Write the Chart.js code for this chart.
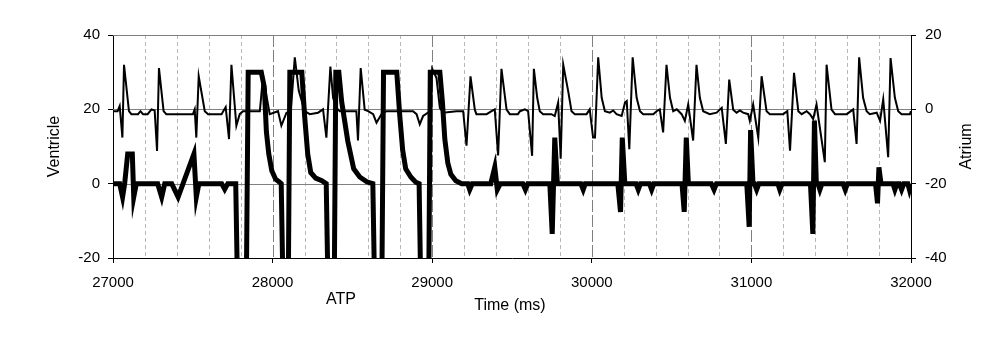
<!DOCTYPE html>
<html>
<head>
<meta charset="utf-8">
<script src="https://cdn.jsdelivr.net/npm/chart.js@4.4.1/dist/chart.umd.min.js"></script>
<style>
  html, body { margin: 0; padding: 0; background: #ffffff; }
  #wrap { width: 1006px; height: 337px; }
</style>
</head>
<body>
<div id="wrap"><canvas id="c" width="1006" height="337"></canvas></div>
<script>
// Time axis (ms) and tick labels
const timeTicks = [27000, 28000, 29000, 30000, 31000, 32000];
const ventricleTicks = [-20, 0, 20, 40];
const atriumTicks = [-40, -20, 0, 20];

// Ventricular channel: sample times (ms) and amplitude
const timeV = [
  27000, 27042, 27060, 27073, 27092, 27121, 27130, 27146, 27280, 27305,
  27324, 27368, 27408, 27507, 27522, 27538, 27681, 27700, 27719, 27769,
  27781, 27835, 27847, 27929, 27948, 27961, 27976, 27995, 28019, 28044,
  28054, 28066, 28098, 28108, 28183, 28201, 28220, 28239, 28270, 28308,
  28336, 28348, 28386, 28396, 28415, 28433, 28471, 28508, 28546, 28590,
  28628, 28640, 28684, 28695, 28778, 28796, 28815, 28834, 28866, 28897,
  28918, 28929, 28978, 28988, 29048, 29064, 29079, 29098, 29117, 29148,
  29185, 29223, 29235, 29251, 29367, 29392, 29408, 29427, 29568, 29584,
  29599, 29737, 29752, 29768, 29784, 29931, 29946, 29959, 30163, 30180,
  30191, 30207, 30277, 30291, 30305, 30361, 30375, 30389, 30565, 30579,
  30592, 30605, 30749, 30766, 30781, 30971, 30986, 30995, 31010, 31019,
  31033, 31047, 31166, 31178, 31193, 31370, 31385, 31395, 31407, 31417,
  31429, 31442, 31574, 31588, 31602, 31778, 31790, 31799, 31812, 31887,
  31899, 31912, 31927, 31941, 31955, 31980, 31990, 32000
];
const ventricle = [
  0, 0, -3.6, 0, 8, 8, -3.6, 0, 0, -3.6,
  0, 0, -3.6, 8, -3.6, 0, 0, -1.5, 0, 0,
  -30, -30, 30, 30, 26, 14, 8, 3.5, 1.2, 0.4,
  0, -30, -30, 30, 30, 18, 8, 3, 1.5, 0.8,
  0, -30, -30, 30, 30, 22, 11.5, 4, 1.8, 0.5,
  0, -30, -30, 30, 30, 18.7, 9, 4, 1.8, 0.4,
  0, -30, -30, 30, 30, 22, 12, 5.5, 2.5, 0.8,
  0, 0, -1.6, 0, 0, 4.4, -1.6, 0, 0, -1.6,
  0, 0, -13.5, 12.4, 0, 0, -1.6, 0, 0, -7.6,
  12.4, 0, 0, -1.6, 0, 0, -1.6, 0, 0, -7.6,
  12.4, 0, 0, -1.6, 0, 0, -11.6, 14.4, 0, 0,
  -1.6, 0, 0, -1.6, 0, 0, -13.5, 17, 0, 0,
  -1.6, 0, 0, -1.6, 0, 0, -5.3, 4.4, 0, 0,
  -1.6, 0, 0, -1.6, 0, 0, -1.6, 0
];

// Atrial channel: sample times (ms) and amplitude
const timeA = [
  27000, 27029, 27042, 27059, 27069, 27100, 27115, 27157, 27172, 27188,
  27217, 27241, 27261, 27276, 27288, 27317, 27334, 27501, 27512, 27522,
  27537, 27575, 27596, 27680, 27706, 27727, 27742, 27773, 27794, 27814,
  27920, 27940, 27982, 28034, 28055, 28087, 28114, 28139, 28164, 28201,
  28233, 28285, 28316, 28337, 28362, 28379, 28400, 28421, 28525, 28535,
  28552, 28577, 28599, 28630, 28651, 28682, 28713, 28880, 28902, 28922,
  28943, 28974, 28988, 29000, 29027, 29048, 29069, 29152, 29194, 29215,
  29240, 29267, 29277, 29341, 29372, 29392, 29413, 29434, 29466, 29486,
  29537, 29550, 29581, 29601, 29626, 29637, 29658, 29674, 29695, 29747,
  29768, 29789, 29805, 29821, 29852, 29873, 29894, 29967, 29987, 30008,
  30020, 30040, 30062, 30082, 30113, 30134, 30155, 30187, 30208, 30219,
  30235, 30256, 30281, 30302, 30322, 30385, 30406, 30426, 30447, 30468,
  30490, 30510, 30532, 30563, 30583, 30604, 30635, 30656, 30677, 30698,
  30739, 30782, 30814, 30840, 30861, 30886, 30907, 30928, 30948, 30980,
  30990, 31011, 31043, 31064, 31095, 31116, 31199, 31225, 31242, 31267,
  31294, 31315, 31346, 31367, 31387, 31408, 31460, 31471, 31502, 31524,
  31597, 31638, 31659, 31675, 31700, 31722, 31742, 31785, 31806, 31826,
  31857, 31872, 31899, 31920, 31941, 31993, 32000
];
const atrium = [
  -0.5, -0.5, 0.9, -7.6, 12, -0.5, -1.3, -1.3, -0.5, -1.3,
  -1.3, 0, -0.3, -11.2, 11.1, -0.5, -1.3, -1.3, 0, -7.6,
  8.9, -0.5, -1.3, -1.3, 0.6, -8, 12, -4.4, -1.3, -0.5,
  -0.5, 8.9, -1.3, -0.5, -4.4, -0.9, -0.5, 14, 5, -0.5,
  -1.3, -0.9, 0, -7.6, 11.5, 3.1, 0.4, -0.5, -0.5, -8.4,
  11.1, -0.1, -0.5, -1.3, -3.6, -1.3, -0.5, -0.5, -1.3, -4,
  -1.8, -0.9, -0.5, 10.9, 8.4, 0.4, -0.9, -0.5, -0.5, -9.8,
  8.9, -0.1, -1.3, -1.3, -0.5, 0, -12.4, 10.9, -0.1, -1.3,
  -1.3, -0.5, 0, -0.5, -12.5, 10.9, 3.1, -0.5, -1.3, -1.3,
  -1.8, 1.8, -13.3, 12, 4.9, -0.5, -1.3, -1.3, 0, -7.6,
  -7.6, 14, 3.1, -0.5, -0.9, -0.3, -1.3, -1.8, 1.8, 2.2,
  -10.7, 14, 3.1, -0.5, -1.3, -1.3, -0.5, 0, -6.2, 12,
  3.1, -0.5, 0, -1.3, -3.1, 1.3, -8.4, 12, 3.1, -0.5,
  -1.3, -0.9, 0.4, -9.3, 8, -0.1, -0.9, -0.3, -0.9, -1.3,
  -3.1, 1.3, -7.6, 8.9, -0.5, -1.3, -1.3, -0.5, -11.1, 9.8,
  -0.5, -1.3, -0.5, -1.3, -2.6, 1.3, -14.2, 12, -0.1, -1.3,
  -1.3, 0, -9.3, 14, 3.1, -0.5, -1.3, -0.9, -3.1, 2.7,
  -12.9, 13.8, 3.1, -0.5, -1.3, -1.3, -0.5
];

const FONT = { family: "'Liberation Sans', Arial, sans-serif", size: 15 };
const TITLE_FONT = "16px 'Liberation Sans', Arial, sans-serif";

// Gridlines, plot border and text annotations
const decor = {
  id: 'decor',
  beforeDatasetsDraw(chart) {
    const { ctx, chartArea: a, scales } = chart;
    const xs = scales.x, yv = scales.yV;
    ctx.save();
    ctx.lineWidth = 1;
    // minor vertical gridlines every 200 ms
    ctx.strokeStyle = '#b8b8b8';
    ctx.setLineDash([4, 3]);
    for (let t = 27200; t < 32000; t += 200) {
      if (t % 1000 === 0) continue;
      const px = Math.round(xs.getPixelForValue(t)) + 0.5;
      ctx.beginPath(); ctx.moveTo(px, a.top); ctx.lineTo(px, a.bottom); ctx.stroke();
    }
    // major vertical gridlines every 1000 ms
    ctx.strokeStyle = '#808080';
    ctx.setLineDash([12, 3]);
    for (let t = 28000; t < 32000; t += 1000) {
      const px = Math.round(xs.getPixelForValue(t)) + 0.5;
      ctx.beginPath(); ctx.moveTo(px, a.top); ctx.lineTo(px, a.bottom); ctx.stroke();
    }
    // horizontal gridlines and top border
    ctx.setLineDash([]);
    [40, 20, 0].forEach(v => {
      const py = Math.round(yv.getPixelForValue(v)) + 0.5;
      ctx.beginPath(); ctx.moveTo(a.left, py); ctx.lineTo(a.right, py); ctx.stroke();
    });
    ctx.restore();
  },
  afterDraw(chart) {
    const { ctx, chartArea: a } = chart;
    const midY = (a.top + a.bottom) / 2;
    ctx.save();
    ctx.fillStyle = '#000';
    ctx.font = TITLE_FONT;
    ctx.textAlign = 'center';
    ctx.textBaseline = 'middle';
    ctx.save(); ctx.translate(55, midY); ctx.rotate(-Math.PI / 2); ctx.fillText('Ventricle', 0, 0); ctx.restore();
    ctx.save(); ctx.translate(967, midY); ctx.rotate(-Math.PI / 2); ctx.fillText('Atrium', 0, 0); ctx.restore();
    ctx.fillText('Time (ms)', 510, 306);
    ctx.fillText('ATP', 341, 300);
    ctx.restore();
  }
};

const pts = (ts, vs) => ts.map((t, i) => ({ x: t, y: vs[i] }));

new Chart(document.getElementById('c'), {
  type: 'line',
  data: {
    datasets: [
      { label: 'Ventricle', data: pts(timeV, ventricle), yAxisID: 'yV',
        borderColor: '#000', borderWidth: 5, pointRadius: 0, tension: 0, fill: false },
      { label: 'Atrium', data: pts(timeA, atrium), yAxisID: 'yA',
        borderColor: '#000', borderWidth: 2, pointRadius: 0, tension: 0, fill: false }
    ]
  },
  options: {
    responsive: false,
    animation: false,
    devicePixelRatio: 1,
    layout: { padding: { top: 35, left: 0, right: 0, bottom: 0 } },
    plugins: { legend: { display: false }, tooltip: { enabled: false } },
    scales: {
      x: {
        type: 'linear', min: timeTicks[0], max: timeTicks[timeTicks.length - 1],
        ticks: { stepSize: 1000, padding: 11, font: FONT, color: '#000', maxRotation: 0, autoSkip: false,
                 callback: v => String(v) },
        grid: { drawOnChartArea: false, tickLength: 5, color: '#000' },
        border: { color: '#000', width: 1 },
        afterFit: s => { s.height = 79; }
      },
      yV: {
        type: 'linear', position: 'left',
        min: ventricleTicks[0], max: ventricleTicks[ventricleTicks.length - 1],
        ticks: { stepSize: 20, padding: 8, font: FONT, color: '#000', callback: v => String(v) },
        grid: { drawOnChartArea: false, tickLength: 5, color: '#000' },
        border: { color: '#000', width: 1 },
        afterFit: s => { s.width = 113; }
      },
      yA: {
        type: 'linear', position: 'right',
        min: atriumTicks[0], max: atriumTicks[atriumTicks.length - 1],
        ticks: { stepSize: 20, padding: 9, font: FONT, color: '#000', callback: v => String(v) },
        grid: { drawOnChartArea: false, tickLength: 5, color: '#000' },
        border: { color: '#000', width: 1 },
        afterFit: s => { s.width = 95; }
      }
    }
  },
  plugins: [decor]
});
</script>
</body>
</html>
